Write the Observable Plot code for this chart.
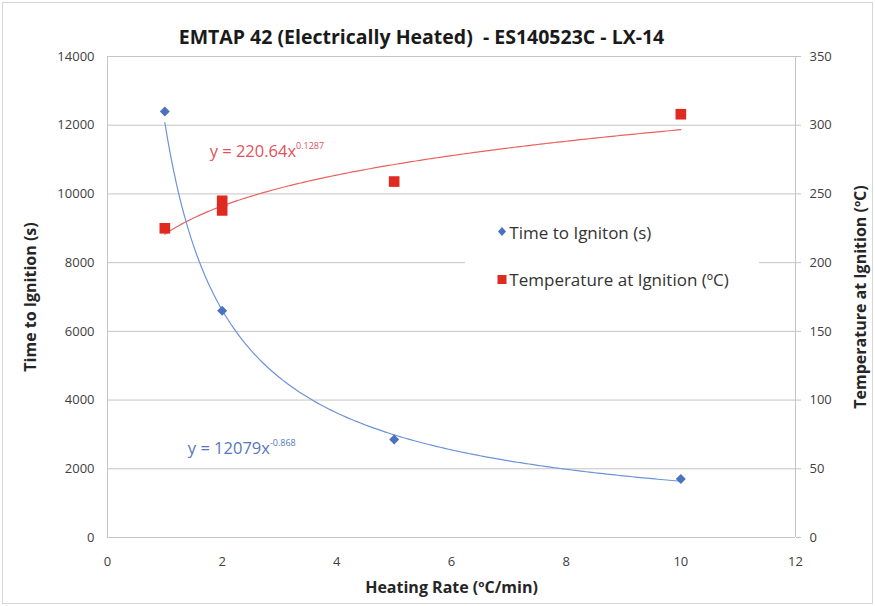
<!DOCTYPE html>
<html>
<head>
<meta charset="utf-8">
<script src="https://cdn.jsdelivr.net/npm/d3@7"></script>
<script src="https://cdn.jsdelivr.net/npm/@observablehq/plot@0.6"></script>
<style>
  body { margin: 0; background: #fff; }
  #wrap { position: relative; width: 875px; height: 606px; font-family: "Open Sans", Lato, sans-serif; }
  #wrap > svg { display: block; outline: 1px solid #d6d6d6; outline-offset: -3px; }
  .eq { position: absolute; font-size: 16.5px; white-space: nowrap; transform: translateY(-50%); }
  .eq sup { font-size: 9px; vertical-align: 8px; }
  #legend { position: absolute; background: #fff; font-size: 17px; color: #333; }
  #legend .item { position: absolute; left: 44px; white-space: nowrap; transform: translateY(-50%); }
  #legend .sw { position: absolute; left: -12px; top: 50%; }
</style>
</head>
<body>
<div id="wrap"></div>
<script>
// Heating-rate series (ºC/min) and measured results
const heatingRate = [1, 2, 5, 10];
const ignitionTime = [12400, 6600, 2850, 1700];          // s
const tempRate = [1, 2, 2, 5, 10];
const ignitionTemp = [225, 245, 238, 259, 308];           // ºC

// Power-law trendlines y = a·x^b
const timeFit = {a: 12079, b: -0.868};
const tempFit = {a: 220.64, b: 0.1287};

// Axis ticks
const xTicks = [0, 2, 4, 6, 8, 10, 12];
const yTicks = [0, 2000, 4000, 6000, 8000, 10000, 12000, 14000];
const y2Ticks = [0, 50, 100, 150, 200, 250, 300, 350];

const K = 14000 / 350; // temperature -> left-axis units

const blue = "#4a72c0", blueLine = "#6f93d8";
const red = "#de2a20", redLine = "#e8635e";

const fitX = d3.range(1, 10.0001, 0.05);
const timeCurve = fitX.map(x => ({x, y: timeFit.a * Math.pow(x, timeFit.b)}));
const tempCurve = fitX.map(x => ({x, y: tempFit.a * Math.pow(x, tempFit.b) * K}));

const font = "'Open Sans', Lato, sans-serif";

const chart = Plot.plot({
  width: 875,
  height: 606,
  marginLeft: 107,
  marginRight: 80,
  marginTop: 56,
  marginBottom: 69,
  style: {fontFamily: font, fontSize: "13px", color: "#404040", background: "#fff"},
  x: {domain: [0, 12]},
  y: {domain: [0, 14000]},
  marks: [
    Plot.ruleY(yTicks, {stroke: "#c4c4c4"}),
    Plot.ruleX([0, 12], {stroke: "#c4c4c4"}),
    Plot.axisX(xTicks, {tickSize: 0, tickPadding: 19, tickFormat: d => String(d), label: null, fontSize: 13}),
    Plot.axisY(yTicks, {tickSize: 0, tickPadding: 13, tickFormat: d => String(d), label: null, fontSize: 13}),
    Plot.axisY(y2Ticks, {anchor: "right", y: d => d * K, tickFormat: d => String(d), tickSize: 5, tickPadding: 9,
      stroke: "#c4c4c4", label: null, fontSize: 13}),
    Plot.line(tempCurve, {x: "x", y: "y", stroke: redLine, strokeWidth: 1.2}),
    Plot.line(timeCurve, {x: "x", y: "y", stroke: blueLine, strokeWidth: 1.2}),
    Plot.dot(heatingRate, {x: d => d, y: (d, i) => ignitionTime[i], symbol: "diamond2", r: 4.5,
      fill: blue, stroke: "none"}),
    Plot.dot(tempRate, {x: d => d, y: (d, i) => ignitionTemp[i] * K, symbol: "square", r: 6, fill: red}),
    Plot.text(["EMTAP 42 (Electrically Heated)  - ES140523C - LX-14"], {text: d => d, frameAnchor: "top",
      dy: -26, dx: -30, fontSize: 19.5, fontWeight: "bold", fill: "#1a1a1a"}),
    Plot.text(["Heating Rate (ºC/min)"], {text: d => d, frameAnchor: "bottom", dy: 55,
      fontSize: 16, fontWeight: "bold", fill: "#262626"}),
    Plot.text(["Time to Ignition (s)"], {text: d => d, frameAnchor: "left", textAnchor: "middle",
      dx: -77, rotate: -90, fontSize: 16, fontWeight: "bold", fill: "#262626"}),
    Plot.text(["Temperature at Ignition (ºC)"], {text: d => d, frameAnchor: "right", textAnchor: "middle",
      dx: 65, rotate: -90, fontSize: 16, fontWeight: "bold", fill: "#262626"})
  ]
});

const wrap = document.getElementById("wrap");
wrap.appendChild(chart);

const sx = chart.scale("x"), sy = chart.scale("y");

// Trendline equations
function addEq(x, y, base, exp, color) {
  const el = document.createElement("div");
  el.className = "eq";
  el.style.left = sx.apply(x) + "px";
  el.style.top = sy.apply(y) + "px";
  el.style.color = color;
  el.innerHTML = `${base}<sup>${exp}</sup>`;
  wrap.appendChild(el);
}
addEq(1.79, 11260, `y = ${tempFit.a}x`, tempFit.b, "#e0525a");
addEq(1.41, 2620, `y = ${timeFit.a}x`, timeFit.b, "#5577c0");

// Legend box inside the plot
const legend = document.createElement("div");
legend.id = "legend";
const lx0 = sx.apply(6.25), lx1 = sx.apply(11.38);
const ly0 = sy.apply(9370), ly1 = sy.apply(6900);
Object.assign(legend.style, {left: lx0 + "px", top: ly0 + "px", width: (lx1 - lx0) + "px", height: (ly1 - ly0) + "px"});
legend.innerHTML = `
  <div class="item" style="top:${sy.apply(8880) - ly0}px">
    <svg class="sw" width="10" height="10" viewBox="-5 -5 10 10" style="transform:translateY(-50%)"><path d="M0,-4.5L4,0L0,4.5L-4,0Z" fill="${blue}"/></svg>Time to Igniton (s)</div>
  <div class="item" style="top:${sy.apply(7500) - ly0}px">
    <svg class="sw" width="10" height="10" viewBox="-5 -5 10 10" style="transform:translateY(-50%)"><rect x="-4.5" y="-4.5" width="9" height="9" fill="${red}"/></svg>Temperature at Ignition (ºC)</div>`;
wrap.appendChild(legend);
</script>
</body>
</html>
